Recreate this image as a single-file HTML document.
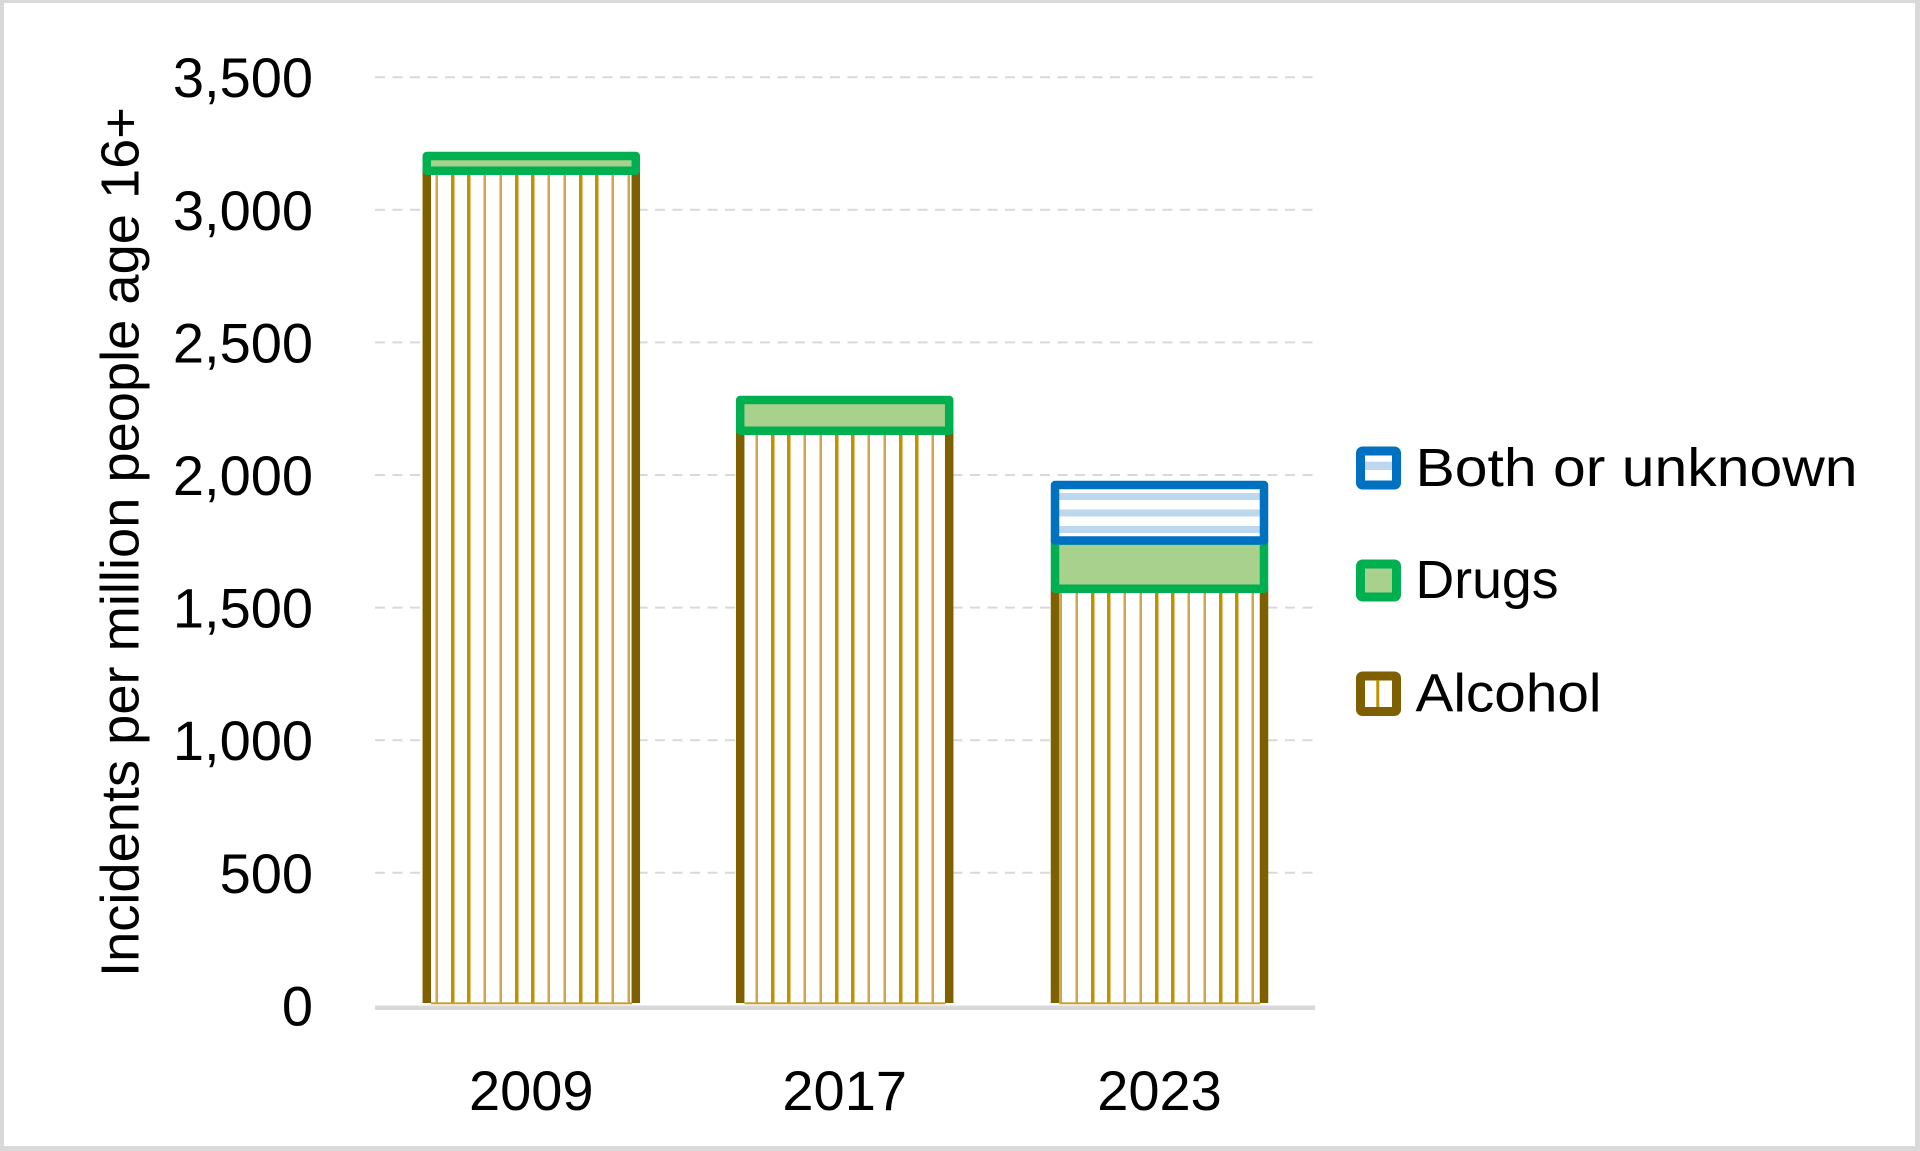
<!DOCTYPE html>
<html>
<head>
<meta charset="utf-8">
<style>
  html, body { margin: 0; padding: 0; background: #ffffff; }
  svg { display: block; }
  text { font-family: "Liberation Sans", "DejaVu Sans", sans-serif; fill: #000; }
</style>
</head>
<body>
<svg width="1920" height="1151" viewBox="0 0 1920 1151" xmlns="http://www.w3.org/2000/svg">
  <defs>
    <pattern id="alc" patternUnits="userSpaceOnUse" x="0" y="0" width="64" height="20">
      <rect x="0" y="0" width="64" height="20" fill="#ffffff"/>
      <rect x="3" y="0" width="3.5" height="20" fill="#BF9000"/>
      <rect x="19" y="0" width="3.5" height="20" fill="#BF9000"/>
      <rect x="35.5" y="0" width="2.5" height="20" fill="#CFA54A"/>
      <rect x="51.5" y="0" width="2.5" height="20" fill="#CFA54A"/>
    </pattern>
    <pattern id="both" patternUnits="userSpaceOnUse" x="0" y="0" width="20" height="16.5" patternTransform="translate(0,493)">
      <rect x="0" y="0" width="20" height="16.5" fill="#ffffff"/>
      <rect x="0" y="0" width="20" height="7" fill="#BDD7EE"/>
    </pattern>
    <clipPath id="plotclip">
      <rect x="0" y="0" width="1920" height="1003"/>
    </clipPath>
  </defs>

  <!-- outer border -->
  <rect x="0" y="0" width="1920" height="1151" fill="#ffffff"/>
  <rect x="0" y="0" width="1920" height="3" fill="#d9d9d9"/>
  <rect x="0" y="0" width="4" height="1151" fill="#d9d9d9"/>
  <rect x="1915" y="0" width="5" height="1151" fill="#d9d9d9"/>
  <rect x="0" y="1146" width="1920" height="5" fill="#d9d9d9"/>

  <!-- gridlines -->
  <g stroke="#d9d9d9" stroke-width="2" stroke-dasharray="10 7.5" fill="none">
    <line x1="375" y1="872.8" x2="1315" y2="872.8"/>
    <line x1="375" y1="740.2" x2="1315" y2="740.2"/>
    <line x1="375" y1="607.6" x2="1315" y2="607.6"/>
    <line x1="375" y1="475.0" x2="1315" y2="475.0"/>
    <line x1="375" y1="342.4" x2="1315" y2="342.4"/>
    <line x1="375" y1="209.8" x2="1315" y2="209.8"/>
    <line x1="375" y1="77.2" x2="1315" y2="77.2"/>
  </g>

  <!-- y tick labels -->
  <g font-size="56" text-anchor="end">
    <text x="313" y="1025.4">0</text>
    <text x="313" y="892.8">500</text>
    <text x="313" y="760.2">1,000</text>
    <text x="313" y="627.6">1,500</text>
    <text x="313" y="495.0">2,000</text>
    <text x="313" y="362.4">2,500</text>
    <text x="313" y="229.8">3,000</text>
    <text x="313" y="97.2">3,500</text>
  </g>

  <!-- y axis title -->
  <text font-size="54" text-anchor="middle" textLength="870" lengthAdjust="spacingAndGlyphs"
        transform="translate(138.5,542) rotate(-90)">Incidents per million people age 16+</text>

  <!-- Alcohol segments -->
  <g clip-path="url(#plotclip)" stroke="#7F6000" stroke-width="8.5" stroke-linejoin="round" fill="url(#alc)">
    <rect x="426.8" y="170.75" width="209" height="840"/>
    <rect x="740.2" y="430.75" width="209" height="580"/>
    <rect x="1055" y="588.8" width="209" height="420"/>
  </g>
  <!-- thin gold bottom line -->
  <g fill="#C9A030">
    <rect x="431" y="1002.3" width="201" height="2"/>
    <rect x="744.5" y="1002.3" width="201" height="2"/>
    <rect x="1059.3" y="1002.3" width="201" height="2"/>
  </g>

  <!-- Drugs segments -->
  <g stroke="#00B050" stroke-width="8.5" stroke-linejoin="round" fill="#A9D18E">
    <rect x="426.8" y="155.95" width="209" height="14.8"/>
    <rect x="740.2" y="400" width="209" height="30.75"/>
    <rect x="1055" y="540.5" width="209" height="48.3"/>
  </g>

  <!-- Both or unknown segment -->
  <rect x="1055" y="485" width="209" height="55.5" stroke="#0070C0" stroke-width="8.5" stroke-linejoin="round" fill="url(#both)"/>

  <!-- x axis line -->
  <rect x="375" y="1005.5" width="940" height="4.5" fill="#d9d9d9"/>

  <!-- x labels -->
  <g font-size="56" text-anchor="middle">
    <text x="531.3" y="1110">2009</text>
    <text x="844.7" y="1110">2017</text>
    <text x="1159.5" y="1110">2023</text>
  </g>

  <!-- Legend -->
  <!-- Both or unknown marker -->
  <rect x="1360.5" y="451" width="36" height="34" rx="2" fill="#ffffff" stroke="#0070C0" stroke-width="9" stroke-linejoin="round"/>
  <rect x="1365" y="461.7" width="27" height="8.3" fill="#BDD7EE"/>
  <text x="1415.5" y="486" font-size="54" textLength="442" lengthAdjust="spacingAndGlyphs">Both or unknown</text>

  <!-- Drugs marker -->
  <rect x="1360.5" y="564" width="36" height="33" rx="2" fill="#A9D18E" stroke="#00B050" stroke-width="9" stroke-linejoin="round"/>
  <text x="1415.5" y="598" font-size="54" textLength="143" lengthAdjust="spacingAndGlyphs">Drugs</text>

  <!-- Alcohol marker -->
  <rect x="1360.5" y="676" width="36" height="35.5" rx="2" fill="#ffffff" stroke="#7F6000" stroke-width="9" stroke-linejoin="round"/>
  <rect x="1376.3" y="680" width="3" height="27" fill="#BF9000"/>
  <text x="1415.5" y="711.7" font-size="54" textLength="186" lengthAdjust="spacingAndGlyphs">Alcohol</text>
</svg>
</body>
</html>
